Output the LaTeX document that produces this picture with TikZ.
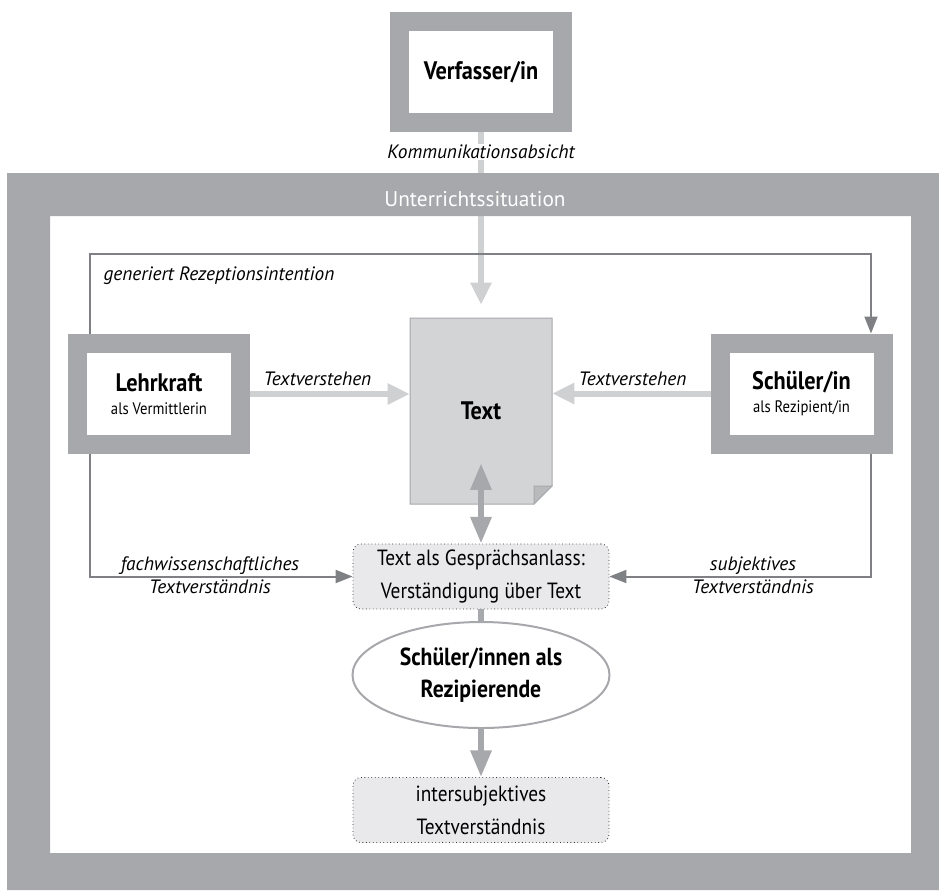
\documentclass[tikz,border=0pt]{standalone}
\usepackage{fontspec}
\setmainfont{PT Sans}
\newfontfamily\condfont[FakeStretch=0.88]{PT Sans}
\usetikzlibrary{arrows.meta,shapes.geometric,calc}

\definecolor{bandgray}{HTML}{A7A8AB}
\definecolor{pfeilhell}{HTML}{CFD0D2}
\definecolor{blattgrau}{HTML}{D3D4D6}
\definecolor{knickgrau}{HTML}{B9BABC}
\definecolor{liniegrau}{HTML}{7F8083}
\definecolor{kastenfill}{HTML}{E9E9EB}

\newcommand\boxtitel{\condfont\bfseries\fontsize{19}{22}\selectfont}
\newcommand\boxsub{\condfont\fontsize{12.5}{17.25}\selectfont}

\tikzset{
  hspitze/.tip={Triangle[length=16.5pt,width=15pt]},
  gspitze/.tip={Triangle[length=20pt,width=15pt]},
  dspitze/.tip={Triangle[length=12.75pt,width=9.75pt]},
  person/.style={draw=bandgray, line width=14.25pt, fill=white,
    minimum width=122.25pt, minimum height=75.75pt, align=center,
    inner sep=0pt, font=\boxsub},
  blatt/.style={minimum width=106.5pt, minimum height=139.5pt,
    inner sep=0pt, font=\boxtitel},
  kasten/.style={rectangle, rounded corners=6pt, draw=black!80, dotted,
    line width=0.6pt, fill=kastenfill, minimum width=192pt,
    minimum height=48.75pt, align=center, inner sep=0pt,
    font=\condfont\fontsize{16.5}{24.5}\selectfont},
  oval/.style={ellipse, draw=bandgray, line width=1.5pt, fill=white,
    minimum width=192.75pt, minimum height=79.5pt, inner sep=0pt,
    align=center, font=\condfont\bfseries\fontsize{18.5}{24}\selectfont},
  etikett/.style={font=\itshape\fontsize{14.5}{17.25}\selectfont, inner sep=1pt},
  hellpfeil/.style={draw=pfeilhell, line width=4.5pt, -hspitze},
  grauepfeil/.style={draw=bandgray, line width=4.5pt, -gspitze},
  dunkelpfeil/.style={draw=liniegrau, line width=1.5pt, -dspitze},
}

\begin{document}
\begin{tikzpicture}[x=0.75pt,y=-0.75pt]
\useasboundingbox (0,0) rectangle (939,890);

% === Text (Blatt mit Eselsohr) ===
\coordinate (blattNW) at (410,318);
\coordinate (blattSE) at (552,504);
\filldraw[fill=blattgrau, draw=bandgray, line width=0.75pt]
  (blattNW) -- (blattNW -| blattSE) -- ($(blattSE)+(0,-18)$)
  -- ($(blattSE)+(-18,0)$) -- (blattNW |- blattSE) -- cycle;
\filldraw[fill=knickgrau, draw=bandgray, line width=0.75pt]
  ($(blattSE)+(0,-18)$) -- ($(blattSE)+(-18,-18)$) -- ($(blattSE)+(-18,0)$) -- cycle;
\node[blatt] (txt) at ($(blattNW)!0.5!(blattSE)$) {Text};

% === Verfasser/in ===
\node[person] (vf) at (481,72) {\boxtitel Verfasser/in};
\draw[hellpfeil, shorten >=9.75pt] (vf) -- (txt);
\node[etikett, fill=white] (komm) at (481,152) {Kommunikationsabsicht};

% === Rahmen ===
\fill[bandgray, even odd rule] (7,173) rectangle (939,890) (50,216) rectangle (911,853);
\node[font=\fontsize{16}{19}\selectfont, text=white] (situ) at (475,199) {Unterrichtssituation};

% === Lehrkraft und Schueler/in ===
\node[person] (lk) at (159,394) {{\boxtitel Lehrkraft}\\{\boxsub als Vermittlerin}};
\node[person] (sch) at (801.5,393.5) {{\boxtitel Schüler/in}\\{\boxsub als Rezipient/in}};

\coordinate (tl) at (90,254);
\coordinate (tr) at (871,254);
\draw[dunkelpfeil] (lk.north -| tl) -- (tl) -- (tr) -- (sch.north -| tr);
\node[etikett, anchor=base west] (gen) at (102,280) {generiert Rezeptionsintention};

\draw[hellpfeil] (lk) -- (lk -| txt.west);
\draw[hellpfeil] (sch) -- (sch -| txt.east);
\node[etikett, anchor=base west] (tvl) at (262,385) {Textverstehen};
\node[etikett, anchor=base east] (tvr) at (688,385) {Textverstehen};

% === Gespraech ===
\node[kasten] (gs) at (481,576.5) {Text als Gesprächsanlass:\\Verständigung über Text};
\node[oval] (sr) at (481,675) {Schüler/innen als\\Rezipierende};
\node[kasten] (isv) at (481,810) {intersubjektives\\Textverständnis};

\draw[grauepfeil, gspitze-gspitze] ($(txt.south)+(0,-41)$) -- (gs);
\draw[draw=bandgray, line width=4.5pt] (gs) -- (sr);
\draw[grauepfeil] (sr) -- (isv);

\draw[dunkelpfeil] (lk.south -| tl) |- (gs.west);
\draw[dunkelpfeil] (sch.south -| tr) |- (gs.east);
\node[etikett, align=center] (fach) at (210,575) {fachwissenschaftliches\\Textverständnis};
\node[etikett, align=center] (subj) at (753,575) {subjektives\\Textverständnis};

\end{tikzpicture}
\end{document}
